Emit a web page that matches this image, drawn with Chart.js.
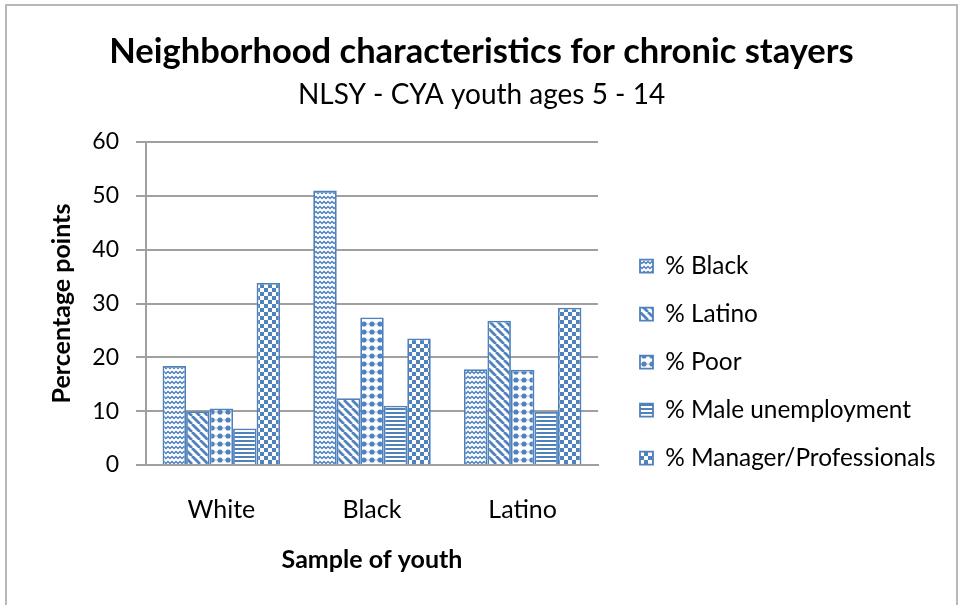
<!DOCTYPE html>
<html>
<head>
<meta charset="utf-8">
<script src="https://cdn.jsdelivr.net/npm/chart.js@4.4.0/dist/chart.umd.min.js"></script>
<style>
  html, body { margin: 0; padding: 0; background: #ffffff; }
  #wrap { position: relative; width: 963px; height: 605px; overflow: hidden; }
  #frame { position: absolute; left: 5px; top: 4px; width: 953px; height: 640px; border: 2px solid #b8b8b8; box-sizing: border-box; }
  #c { position: absolute; left: 0; top: 0; }
</style>
</head>
<body>
<div id="wrap">
  <div id="frame"></div>
  <canvas id="c" width="963" height="605"></canvas>
</div>
<script>
const categories = ["White", "Black", "Latino"];
const seriesNames = ["% Black", "% Latino", "% Poor", "% Male unemployment", "% Manager/Professionals"];
const pctBlack = [18.4, 51.0, 17.8];
const pctLatino = [10.0, 12.4, 26.8];
const pctPoor = [10.5, 27.4, 17.7];
const pctMaleUnemployment = [6.8, 11.0, 9.9];
const pctManagerProfessionals = [33.8, 23.5, 29.2];
const yTicks = [0, 10, 20, 30, 40, 50, 60];

const BLUE = '#4F81BD';
const FONT = 'Lato, "Open Sans", sans-serif';

function makePattern(w, h, draw) {
  const c = document.createElement('canvas');
  c.width = w; c.height = h;
  const g = c.getContext('2d');
  g.fillStyle = '#ffffff';
  g.fillRect(0, 0, w, h);
  g.fillStyle = BLUE;
  g.strokeStyle = BLUE;
  draw(g, w, h);
  return document.getElementById('c').getContext('2d').createPattern(c, 'repeat');
}
const patWave = makePattern(8, 5, (g) => {
  g.lineWidth = 1.5;
  g.beginPath();
  g.moveTo(-2, 3.5); g.lineTo(0, 1.5); g.lineTo(2, 3.5); g.lineTo(4, 1.5); g.lineTo(6, 3.5); g.lineTo(8, 1.5); g.lineTo(10, 3.5);
  g.stroke();
});
const patDiag = makePattern(8, 8, (g) => {
  g.lineWidth = 2.8;
  g.beginPath();
  for (let k = -16; k <= 16; k += 8) { g.moveTo(k, 0); g.lineTo(k + 8, 8); }
  g.stroke();
});
const patDots = makePattern(8, 8, (g) => {
  g.globalAlpha = 0.5;
  g.fillRect(0, 3.5, 8, 1);
  g.globalAlpha = 1;
  g.beginPath();
  g.arc(4, 4, 2.6, 0, Math.PI * 2);
  g.fill();
});
const patHoriz = makePattern(4, 4, (g) => {
  g.fillRect(0, 0, 4, 2);
});
const patCheck = makePattern(8, 8, (g) => {
  g.fillRect(0, 0, 4, 4);
  g.fillRect(4, 4, 4, 4);
});

const seriesValues = [pctBlack, pctLatino, pctPoor, pctMaleUnemployment, pctManagerProfessionals];
const patterns = [patWave, patDiag, patDots, patHoriz, patCheck];

const datasets = seriesNames.map((name, i) => ({
  label: name,
  data: seriesValues[i],
  backgroundColor: patterns[i],
  borderColor: BLUE,
  borderWidth: 1.8,
  borderSkipped: 'bottom'
}));

// Let the right-hand legend be wider than Chart.js' default cap, and place it like the reference.
const legendPlacer = {
  id: 'legendPlacer',
  beforeLayout(chart) {
    const lg = chart.legend;
    if (lg && !lg._patched) {
      const orig = lg.update.bind(lg);
      lg.update = function (w, h, m) { orig(420, h, m); this.width = 365; };
      lg._patched = true;
    }
  },
  afterLayout(chart) {
    const lg = chart.legend;
    if (!lg) return;
    const pad = lg.options.labels.padding;
    lg.left = 640 - pad;
    lg.right = lg.left + 365;
    lg.top = 254 - pad;
    lg.bottom = 605;
  }
};

new Chart(document.getElementById('c'), {
  type: 'bar',
  data: { labels: categories, datasets },
  plugins: [legendPlacer],
  options: {
    responsive: false,
    animation: false,
    devicePixelRatio: 1,
    layout: { padding: { top: 0, left: 0, right: 0, bottom: 0 } },
    datasets: { bar: { categoryPercentage: 0.78, barPercentage: 1.0 } },
    plugins: {
      title: {
        display: true,
        text: 'Neighborhood characteristics for chronic stayers',
        color: '#000',
        font: { family: FONT, size: 34.5, weight: 'bold', lineHeight: 1.2 },
        padding: { top: 31.3, bottom: 0 }
      },
      subtitle: {
        display: true,
        text: 'NLSY - CYA youth ages 5 - 14',
        color: '#000',
        font: { family: FONT, size: 28, weight: 'normal', lineHeight: 1.2 },
        padding: { top: 5.5, bottom: 30.2 }
      },
      legend: {
        position: 'right',
        align: 'start',
        labels: {
          color: '#000',
          font: { family: FONT, size: 24.4 },
          boxWidth: 13,
          boxHeight: 13,
          padding: 23.6
        }
      },
      tooltip: { enabled: false }
    },
    scales: {
      x: {
        afterFit: (s) => { s.height = 140; },
        grid: { display: false, drawTicks: false },
        border: { display: true, color: '#a0a0a0', width: 2 },
        ticks: { color: '#000', font: { family: FONT, size: 25, lineHeight: 1.2 }, padding: 30 },
        title: { display: true, text: 'Sample of youth', color: '#000', font: { family: FONT, size: 25, weight: 'bold', lineHeight: 1.2 }, padding: { top: 0, bottom: 30 } }
      },
      y: {
        min: 0, max: 60,
        afterFit: (s) => { s.width = 146; },
        afterBuildTicks: (axis) => { axis.ticks = yTicks.map(v => ({ value: v })); },
        grid: { color: '#a0a0a0', lineWidth: 2, tickLength: 10, drawTicks: true },
        border: { display: true, color: '#a0a0a0', width: 2 },
        ticks: { color: '#000', font: { family: FONT, size: 23 }, padding: 17 },
        title: { display: true, text: 'Percentage points', color: '#000', font: { family: FONT, size: 25, weight: 'bold', lineHeight: 1.2 }, padding: { top: 47, bottom: 0 } }
      }
    }
  }
});
</script>
</body>
</html>
